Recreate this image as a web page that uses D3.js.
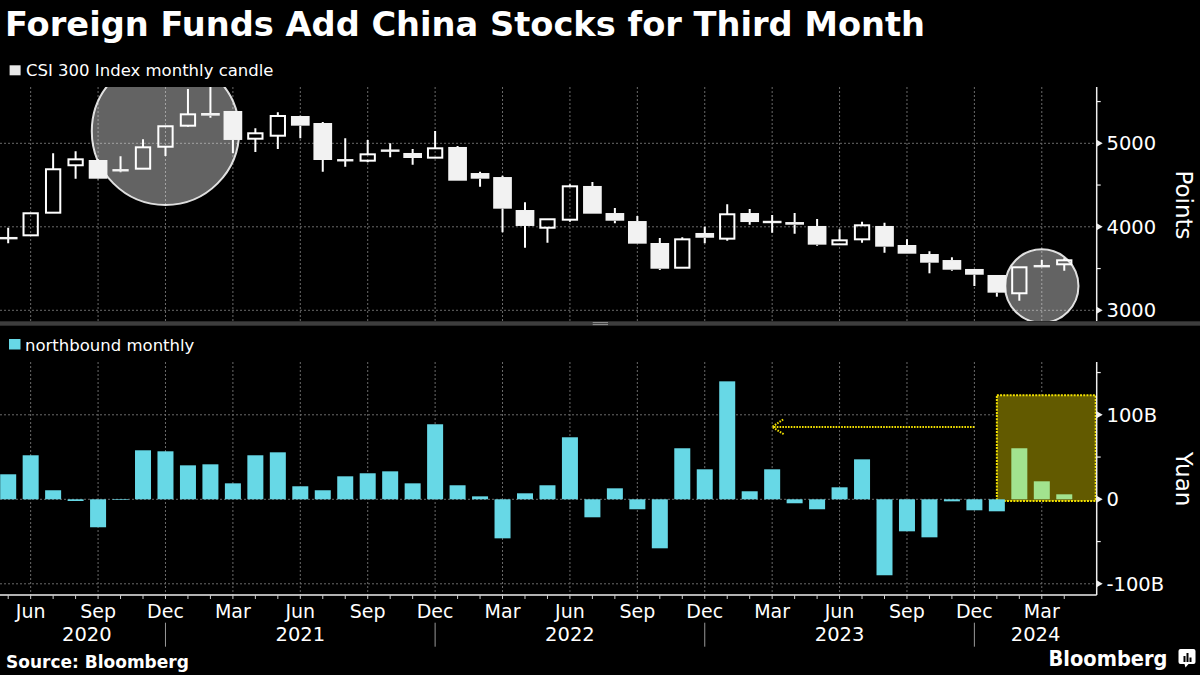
<!DOCTYPE html>
<html><head><meta charset="utf-8">
<script src="https://cdn.jsdelivr.net/npm/d3@7"></script>
<style>
html,body{margin:0;padding:0;background:#000;}
svg{display:block;}
text{font-family:"DejaVu Sans",sans-serif;fill:#fff;}
</style></head><body>
<svg id="chart" width="1200" height="675"></svg>
<script>
// ---------------- DATA ----------------
const months = ["2020-05","2020-06","2020-07","2020-08","2020-09","2020-10","2020-11","2020-12",
"2021-01","2021-02","2021-03","2021-04","2021-05","2021-06","2021-07","2021-08","2021-09","2021-10","2021-11","2021-12",
"2022-01","2022-02","2022-03","2022-04","2022-05","2022-06","2022-07","2022-08","2022-09","2022-10","2022-11","2022-12",
"2023-01","2023-02","2023-03","2023-04","2023-05","2023-06","2023-07","2023-08","2023-09","2023-10","2023-11","2023-12",
"2024-01","2024-02","2024-03","2024-04"];
const candleOpen  = [3866,3898,4169,4737,4800,4665,4696,4959,5211,5363,5387,5055,5091,5327,5243,4794,4792,4916,4884,4828,
4956,4644,4596,4201,3989,4085,4489,4165,4069,3806,3510,3926,3858,4165,4065,4057,4010,3790,3850,4010,3782,3674,3602,3495,3423,3204,3515,3551];
const candleHigh  = [3989,4163,4880,4904,4810,4844,5048,5204,5650,5930,5387,5180,5371,5330,5255,5060,5040,5000,4932,5147,
4968,4660,4612,4293,4090,4509,4537,4225,4129,3866,3874,4001,4269,4213,4141,4165,4093,3970,4061,4049,3850,3707,3635,3495,3423,3515,3602,3623];
const candleLow   = [3802,3895,4169,4576,4570,4653,4696,4848,5199,5306,4880,4896,4932,5060,4660,4720,4772,4832,4744,4828,
4552,4480,3934,3750,3810,4061,4157,4042,3798,3483,3510,3802,3834,4025,3929,3917,3774,3790,3810,3690,3678,3443,3474,3291,3163,3115,3515,3474];
const candleClose = [3862,4162,4689,4808,4576,4689,4952,5204,5347,5331,5040,5120,5327,5211,4800,4800,4868,4908,4824,4940,
4552,4576,4217,4010,4090,4485,4157,4073,3798,3498,3850,3869,4150,4057,4050,4025,3786,3838,4018,3762,3678,3570,3486,3426,3211,3515,3542,3599];
const northbound = [29.6,52.1,10.7,-2.0,-33.1,-0.8,58.0,56.8,40.2,41.4,18.9,52.1,55.6,15.4,10.7,27.2,30.8,33.1,18.9,88.8,
16.6,3.5,-46.2,7.1,16.6,73.4,-21.3,13.0,-11.8,-58.0,60.4,35.5,139.6,9.5,35.5,-4.7,-11.8,14.2,47.3,-89.9,-37.9,-45.0,-2.4,-13.0,-14.2,60.4,21.3,5.9];
const highlightMonths = ["2024-02","2024-03","2024-04"];
const monthNames = {"03":"Mar","06":"Jun","09":"Sep","12":"Dec"};
const pointTicks = [3000,4000,5000];
const pointMinorTicks = [3500,4500,5500];
const yuanTicks = [-100,0,100];
const yuanTickLabels = ["-100B","0","100B"];
const yuanMinorTicks = [-50,50,150];
const yearLabels = ["2020","2021","2022","2023","2024"];
const titleText = "Foreign Funds Add China Stocks for Third Month";
const legendTop = "CSI 300 Index monthly candle";
const legendBottom = "northbound monthly";
// annotation anchors (in data terms)
const circleNotes = [{month:"2020-12", value:5144, r:73.7},{month:"2024-03", value:3291, r:36.7}];
const boxNote = {fromMonth:"2024-01", top:123, bottom:-2};
const arrowNote = {fromMonth:"2023-12", toMonth:"2023-03", value:85.6};

// ---------------- LAYOUT ----------------
const svg = d3.select("#chart");
const axisX = 1096.7;
const topP = {y0:87, y1:321};
const botP = {y0:362, y1:595};
const cyan = "#67d8e6", green = "#a2e38e";

const x = d3.scaleBand().domain(months).range([-3.04, 1075.5]).padding(0);
const cx = m => x(m) + x.bandwidth()/2;
const yTop = d3.scaleLinear().domain([3000,5000]).range([310.3,143.3]);
const yBot = d3.scaleLinear().domain([-100,100]).range([583.8,414.8]);

svg.append("rect").attr("width",1200).attr("height",675).attr("fill","#000");

const defs = svg.append("defs");
defs.append("clipPath").attr("id","clipTop").append("rect")
  .attr("x",0).attr("y",topP.y0).attr("width",axisX).attr("height",topP.y1-topP.y0);
defs.append("clipPath").attr("id","clipBot").append("rect")
  .attr("x",0).attr("y",botP.y0).attr("width",axisX).attr("height",botP.y1-botP.y0);

// title
svg.append("text").attr("x",5).attr("y",36).attr("font-size",33).attr("font-weight","bold")
  .attr("textLength",920).attr("lengthAdjust","spacingAndGlyphs").text(titleText);

// legends
svg.append("rect").attr("x",9.6).attr("y",65.3).attr("width",11).attr("height",10).attr("fill","#e8e8e8");
svg.append("text").attr("x",26).attr("y",76).attr("font-size",16.5).text(legendTop);
svg.append("rect").attr("x",9).attr("y",339).attr("width",11.5).attr("height",10.5).attr("fill",cyan);
svg.append("text").attr("x",25).attr("y",350.5).attr("font-size",16.5).text(legendBottom);

// gridlines
const gridMonths = months.filter(m => monthNames[m.slice(5)]);
const grid = svg.append("g").attr("stroke","#6a6a6a").attr("stroke-width",1).attr("stroke-dasharray","2,2");
gridMonths.forEach(m => {
  grid.append("line").attr("x1",cx(m)).attr("x2",cx(m)).attr("y1",topP.y0).attr("y2",topP.y1);
  grid.append("line").attr("x1",cx(m)).attr("x2",cx(m)).attr("y1",botP.y0).attr("y2",botP.y1);
});
pointTicks.forEach(v => grid.append("line").attr("x1",0).attr("x2",axisX).attr("y1",yTop(v)).attr("y2",yTop(v)));
yuanTicks.forEach(v => grid.append("line").attr("x1",0).attr("x2",axisX).attr("y1",yBot(v)).attr("y2",yBot(v)));

// ---------- top panel ----------
const gTop = svg.append("g").attr("clip-path","url(#clipTop)");
circleNotes.forEach(c => {
  gTop.append("circle").attr("cx",cx(c.month)).attr("cy",yTop(c.value)).attr("r",c.r)
    .attr("fill","rgba(255,255,255,0.39)").attr("stroke","rgba(255,255,255,0.85)").attr("stroke-width",2);
});
const candles = months.map((m,i)=>({m, o:candleOpen[i], h:candleHigh[i], l:candleLow[i], c:candleClose[i]}));
candles.forEach(d => {
  const xc = cx(d.m);
  const up = d.c >= d.o;
  const yt = yTop(Math.max(d.o,d.c)), yb = yTop(Math.min(d.o,d.c));
  const hgt = yb - yt;
  const wick = gTop.append("g").attr("stroke","#fff").attr("stroke-width",2);
  if (yTop(d.h) < yt) wick.append("line").attr("x1",xc).attr("x2",xc).attr("y1",yTop(d.h)).attr("y2",yt);
  if (yTop(d.l) > yb) wick.append("line").attr("x1",xc).attr("x2",xc).attr("y1",yb).attr("y2",yTop(d.l));
  if (hgt < 2.5) {
    const w = up ? 16.3 : 18.7;
    gTop.append("rect").attr("x",xc-w/2).attr("y",(yt+yb)/2-1.2).attr("width",w).attr("height",2.4).attr("fill","#f4f4f4");
  } else if (up) {
    gTop.append("rect").attr("x",xc-7.15).attr("y",yt).attr("width",14.3).attr("height",hgt)
      .attr("fill","none").attr("stroke","#fff").attr("stroke-width",2);
  } else {
    gTop.append("rect").attr("x",xc-9.35).attr("y",yt).attr("width",18.7).attr("height",hgt).attr("fill","#f2f2f2");
  }
});

// top axis (right)
const axT = svg.append("g");
axT.append("line").attr("x1",axisX).attr("x2",axisX).attr("y1",topP.y0).attr("y2",topP.y1).attr("stroke","#eee").attr("stroke-width",1.5);
pointMinorTicks.forEach(v => axT.append("line").attr("x1",axisX).attr("x2",axisX+4).attr("y1",yTop(v)).attr("y2",yTop(v)).attr("stroke","#eee").attr("stroke-width",1.2));
pointTicks.forEach(v => {
  const y = yTop(v);
  axT.append("path").attr("d",`M${axisX},${y-3.5}L${axisX+6},${y}L${axisX},${y+3.5}Z`).attr("fill","#eee");
  axT.append("text").attr("x",1106.5).attr("y",y).attr("dy","0.36em").attr("font-size",19.5).text(v);
});
svg.append("text").attr("transform",`translate(1176,205) rotate(90)`).attr("text-anchor","middle")
  .attr("font-size",23).text("Points");

// separator
svg.append("rect").attr("x",0).attr("y",321.3).attr("width",1200).attr("height",4.4).attr("fill","#3d3d3d");
svg.append("line").attr("x1",592.7).attr("x2",608).attr("y1",322.6).attr("y2",322.6).attr("stroke","#aaa").attr("stroke-width",0.8);
svg.append("line").attr("x1",592.7).attr("x2",608).attr("y1",324.6).attr("y2",324.6).attr("stroke","#aaa").attr("stroke-width",0.8);

// ---------- bottom panel ----------
const gBot = svg.append("g").attr("clip-path","url(#clipBot)");
const bx0 = cx(boxNote.fromMonth);
gBot.append("rect").attr("x",bx0).attr("y",yBot(boxNote.top)).attr("width",axisX-1-bx0)
  .attr("height",yBot(boxNote.bottom)-yBot(boxNote.top)).attr("fill","#625a00")
  .attr("stroke","#f2e000").attr("stroke-width",2).attr("stroke-dasharray","2,1.2");
const bars = months.map((m,i)=>({m, v:northbound[i]}));
gBot.selectAll("rect.bar").data(bars).join("rect").attr("class","bar")
  .attr("x",d=>cx(d.m)-8).attr("width",16)
  .attr("y",d=>yBot(Math.max(0,d.v))).attr("height",d=>Math.abs(yBot(d.v)-yBot(0)))
  .attr("fill",d=>highlightMonths.includes(d.m)?green:cyan);
// arrow
const ay = yBot(arrowNote.value), ax1 = cx(arrowNote.fromMonth), ax2 = cx(arrowNote.toMonth);
const arrowG = svg.append("g").attr("stroke","#f2e000").attr("stroke-width",2).attr("fill","none").attr("stroke-dasharray","1.6,1.2");
arrowG.append("line").attr("x1",ax1).attr("x2",ax2+1).attr("y1",ay).attr("y2",ay);
arrowG.append("path").attr("d",`M${ax2+11},${ay-7.5}L${ax2},${ay}L${ax2+12},${ay+7.5}`);

// bottom axis (right)
const axB = svg.append("g");
axB.append("line").attr("x1",axisX).attr("x2",axisX).attr("y1",botP.y0).attr("y2",botP.y1).attr("stroke","#eee").attr("stroke-width",1.5);
yuanMinorTicks.forEach(v => axB.append("line").attr("x1",axisX).attr("x2",axisX+4).attr("y1",yBot(v)).attr("y2",yBot(v)).attr("stroke","#eee").attr("stroke-width",1.2));
yuanTicks.forEach((v,i) => {
  const y = yBot(v);
  axB.append("path").attr("d",`M${axisX},${y-3.5}L${axisX+6},${y}L${axisX},${y+3.5}Z`).attr("fill","#eee");
  axB.append("text").attr("x",1106.5).attr("y",y).attr("dy","0.36em").attr("font-size",19.5).text(yuanTickLabels[i]);
});
svg.append("text").attr("transform",`translate(1176,479) rotate(90)`).attr("text-anchor","middle")
  .attr("font-size",23).text("Yuan");

// x axis
const axX = svg.append("g");
axX.append("line").attr("x1",0).attr("x2",axisX).attr("y1",botP.y1).attr("y2",botP.y1).attr("stroke","#eee").attr("stroke-width",1.5);
months.forEach(m => axX.append("line").attr("x1",cx(m)).attr("x2",cx(m)).attr("y1",botP.y1).attr("y2",botP.y1+4).attr("stroke","#ccc").attr("stroke-width",1));
gridMonths.forEach(m => axX.append("text").attr("x",cx(m)).attr("y",617.5).attr("text-anchor","middle")
  .attr("font-size",19).text(monthNames[m.slice(5)]));
const decs = months.filter(m => m.slice(5)==="12");
decs.forEach(m => axX.append("line").attr("x1",cx(m)).attr("x2",cx(m)).attr("y1",622.7).attr("y2",646.7).attr("stroke","#999").attr("stroke-width",1));
const bounds = [cx(months[0]), ...decs.map(cx), axisX];
yearLabels.forEach((y,i) => axX.append("text").attr("x",(bounds[i]+bounds[i+1])/2).attr("y",641)
  .attr("text-anchor","middle").attr("font-size",19.5).text(y));

// footer
svg.append("text").attr("x",6).attr("y",667.5).attr("font-size",17).attr("font-weight","bold").text("Source: Bloomberg");
svg.append("text").attr("x",1048.5).attr("y",665.5).attr("font-size",21).attr("font-weight","bold")
  .attr("font-family","Liberation Sans, Arial, sans-serif")
  .attr("textLength",119).attr("lengthAdjust","spacingAndGlyphs").text("Bloomberg");
const icon = svg.append("g");
icon.append("path").attr("d","M1180.5,649 h13 a2,2 0 0 1 2,2 v11 a2,2 0 0 1 -2,2 h-5 l-3,3.5 l-1,-3.5 h-4 a2,2 0 0 1 -2,-2 v-11 a2,2 0 0 1 2,-2 Z").attr("fill","#fff");
[[1183.5,656,2,6],[1186.5,653,2,9],[1189.5,657.5,2,4.5]].forEach(r=>icon.append("rect").attr("x",r[0]).attr("y",r[1]).attr("width",r[2]).attr("height",r[3]).attr("fill","#000"));
</script>
</body></html>
